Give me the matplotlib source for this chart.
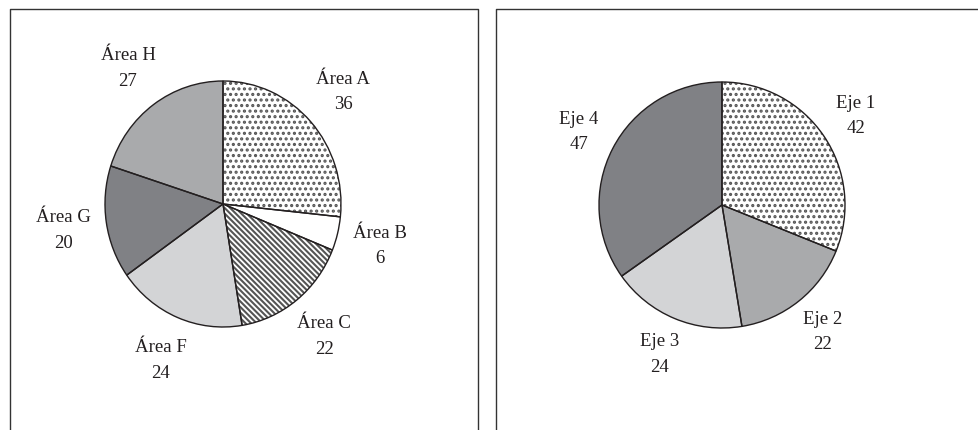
import numpy as np
import matplotlib
matplotlib.use('Agg')
import matplotlib.pyplot as plt
from matplotlib.lines import Line2D

# Data
left_labels = ['Área A', 'Área B', 'Área C', 'Área F', 'Área G', 'Área H']
left_values = [36, 6, 22, 24, 20, 27]

right_labels = ['Eje 1', 'Eje 2', 'Eje 3', 'Eje 4']
right_values = [42, 22, 24, 47]

# Styles
LIGHT = '#d3d4d6'
MID = '#a9aaac'
DARK = '#808185'
left_colors = ['white', 'white', 'white', LIGHT, DARK, MID]
left_hatches = ['...', None, '\\\\\\\\\\\\', None, None, None]
right_colors = ['white', MID, LIGHT, DARK]
right_hatches = ['...', None, None, None]

W, H = 979, 431
plt.rcParams['font.family'] = ['Liberation Serif', 'DejaVu Serif']
plt.rcParams['hatch.linewidth'] = 1.5

fig = plt.figure(figsize=(W / 100, H / 100), dpi=100)


def px_axes(cx, cy, half):
    # cx, cy in pixels from top-left
    return fig.add_axes([(cx - half) / W, (H - cy - half) / H,
                         2 * half / W, 2 * half / H])


def draw_pie(ax, values, labels, colors, hatches, xscale, dist):
    wedges, _ = ax.pie(values, colors=colors, startangle=90,
                       counterclock=False,
                       wedgeprops=dict(linewidth=0, edgecolor='#555555'))
    for w, h in zip(wedges, hatches):
        if h:
            w.set_hatch(h)
            w.set_edgecolor('#555555')
    # outlines on top
    ax.pie(values, colors=['none'] * len(values), startangle=90,
           counterclock=False,
           wedgeprops=dict(linewidth=1.0, edgecolor='#231f20'))
    for w, lab, v in zip(wedges, labels, values):
        th = np.deg2rad((w.theta1 + w.theta2) / 2)
        ax.text(dist * np.cos(th), dist * np.sin(th), lab + '\n' + str(v),
                ha='center', va='center', fontsize=13.5, color='#231f20',
                linespacing=1.65)
    ax.set_aspect('auto')
    ax.set_xlim(-1.5 * xscale, 1.5 * xscale)
    ax.set_ylim(-1.5, 1.5)
    ax.axis('off')


ax1 = px_axes(223, 205, 184.5)
draw_pie(ax1, left_values, left_labels, left_colors, left_hatches,
         123 / 118, 1.37)

ax2 = px_axes(722, 206, 184.5)
draw_pie(ax2, right_values, right_labels, right_colors, right_hatches,
         1.0, 1.31)

# Panel frames
def frame(xs, ys):
    fig.add_artist(Line2D(np.array(xs) / W, 1 - np.array(ys) / H,
                          color='#333333', linewidth=1.0))

frame([10, 10, 478, 478], [H + 2, 10, 10, H + 2])
frame([496, 496, W + 2], [H + 2, 10, 10])

plt.savefig('out.png', dpi=100)
